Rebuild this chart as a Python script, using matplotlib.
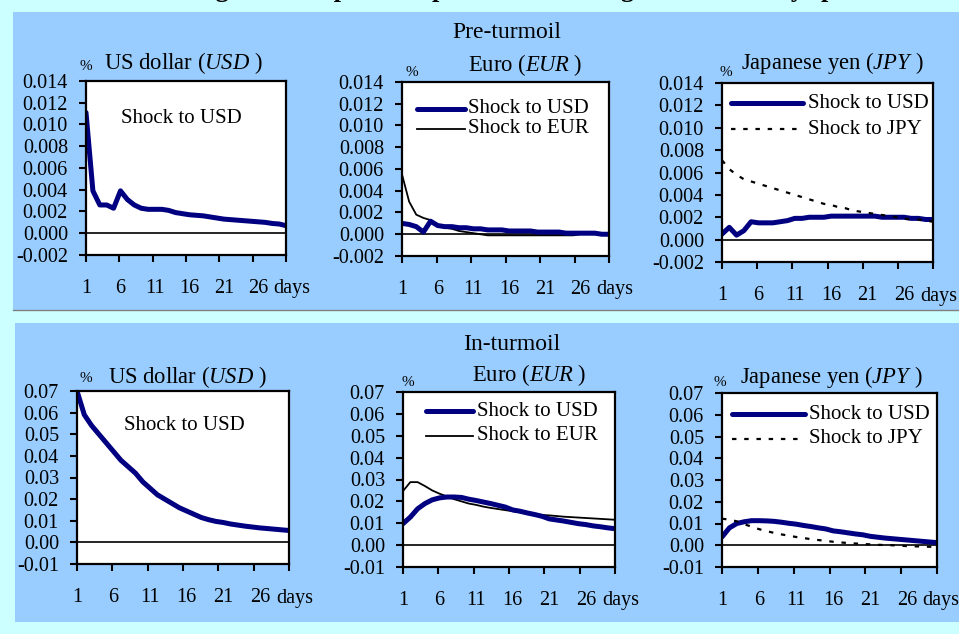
import matplotlib
matplotlib.use("Agg")
import matplotlib.pyplot as plt
from matplotlib.patches import Rectangle
import numpy as np

plt.rcParams['font.family'] = 'Liberation Serif'
plt.rcParams['mathtext.fontset'] = 'custom'
plt.rcParams['mathtext.rm'] = 'Liberation Serif'
plt.rcParams['mathtext.it'] = 'Liberation Serif:italic'

W, H = 959, 634
NAVY = '#000080'
FS = 15
TICK_FS = 14.5
HEAD_FS = 16.3

days = np.arange(1, 31)
day_labels = ['1', '6', '11', '16', '21', '26']

# pre-turmoil responses (%)
pre_usd_usd = [0.0111, 0.0039, 0.0026, 0.0026, 0.0023, 0.0039, 0.0031, 0.0026, 0.0023, 0.0022,
               0.0022, 0.0022, 0.0021, 0.0019, 0.0018, 0.0017, 0.00165, 0.0016, 0.0015, 0.0014,
               0.0013, 0.00125, 0.0012, 0.00115, 0.0011, 0.00105, 0.001, 0.0009, 0.00085, 0.0007]
pre_eur_usd = [0.0010, 0.0009, 0.0007, 0.0002, 0.0012, 0.0008, 0.0007, 0.0007, 0.0006, 0.0006,
               0.0005, 0.0005, 0.0004, 0.0004, 0.0004, 0.0003, 0.0003, 0.0003, 0.0003, 0.0002,
               0.0002, 0.0002, 0.0002, 0.0001, 0.0001, 0.0001, 0.0001, 0.0001, 0.0000, 0.0000]
pre_eur_eur = [0.0055, 0.0030, 0.0018, 0.0015, 0.0013, 0.0008, 0.0006, 0.0005, 0.0003, 0.0002,
               0.0001, 0.0000, -0.0001, -0.0001, -0.0001, -0.0001, -0.0001, -0.0001, -0.0001, -0.0001,
               -0.0001, -0.0001, -0.0001, -0.0001, -0.0001, 0.0000, 0.0000, 0.0000, 0.0000, 0.0000]
pre_jpy_usd = [0.0005, 0.0011, 0.0004, 0.0008, 0.0016, 0.0015, 0.0015, 0.0015, 0.0016, 0.0017,
               0.0019, 0.0019, 0.0020, 0.0020, 0.0020, 0.0021, 0.0021, 0.0021, 0.0021, 0.0021,
               0.0021, 0.0021, 0.0020, 0.0020, 0.0020, 0.0020, 0.0019, 0.0019, 0.0018, 0.0018]
pre_jpy_jpy = [0.0071, 0.0063, 0.0058, 0.0054, 0.0052, 0.0050, 0.0048, 0.0046, 0.0044, 0.0042,
               0.0040, 0.0038, 0.0036, 0.0034, 0.0032, 0.0031, 0.0029, 0.0028, 0.0026, 0.0025,
               0.0024, 0.0023, 0.0022, 0.0021, 0.0020, 0.0019, 0.0018, 0.0018, 0.0017, 0.0016]

# in-turmoil responses (%)
in_usd_usd = [0.070, 0.059, 0.054, 0.050, 0.046, 0.042, 0.038, 0.035, 0.032, 0.028,
              0.025, 0.022, 0.020, 0.018, 0.016, 0.0145, 0.013, 0.0115, 0.0105, 0.0097,
              0.0092, 0.0085, 0.008, 0.0075, 0.0071, 0.0067, 0.0064, 0.0061, 0.0058, 0.0055]
in_eur_usd = [0.0098, 0.0128, 0.0166, 0.0190, 0.0207, 0.0216, 0.0220, 0.0220, 0.0218, 0.0210,
              0.0204, 0.0197, 0.0190, 0.0182, 0.0174, 0.0161, 0.0155, 0.0147, 0.0140, 0.0132,
              0.0120, 0.0115, 0.0110, 0.0104, 0.0098, 0.0094, 0.0088, 0.0084, 0.0079, 0.0075]
in_eur_eur = [0.0247, 0.0288, 0.0288, 0.0270, 0.0250, 0.0235, 0.0223, 0.0210, 0.0200, 0.0190,
              0.0184, 0.0176, 0.0170, 0.0165, 0.0160, 0.0155, 0.0150, 0.0145, 0.0140, 0.0138,
              0.0136, 0.0133, 0.0130, 0.0128, 0.0126, 0.0124, 0.0122, 0.0120, 0.0118, 0.0116]
in_jpy_usd = [0.0038, 0.0080, 0.0100, 0.0108, 0.0113, 0.0113, 0.0112, 0.0110, 0.0106, 0.0101,
              0.0097, 0.0091, 0.0086, 0.0080, 0.0075, 0.0066, 0.0062, 0.0057, 0.0052, 0.0048,
              0.0041, 0.0037, 0.0033, 0.0030, 0.0027, 0.0024, 0.0021, 0.0018, 0.0015, 0.0012]
in_jpy_jpy = [0.0122, 0.0118, 0.0110, 0.0097, 0.0085, 0.0074, 0.0065, 0.0057, 0.0050, 0.0044,
              0.0038, 0.0033, 0.0028, 0.0024, 0.0020, 0.0016, 0.0013, 0.0010, 0.0008, 0.0006,
              0.0004, 0.0002, 0.0001, 0.0000, -0.0002, -0.0004, -0.0005, -0.0006, -0.0007, -0.0008]

pre_ticks = [-0.002, 0.000, 0.002, 0.004, 0.006, 0.008, 0.010, 0.012, 0.014]
in_ticks = [-0.01, 0.00, 0.01, 0.02, 0.03, 0.04, 0.05, 0.06, 0.07]


def fx(x):
    return x / W


def fy(y):
    return 1 - y / H


fig = plt.figure(figsize=(W / 100, H / 100), dpi=100, facecolor='#CCFFFF')

# panel backgrounds
fig.add_artist(Rectangle((fx(13), fy(310)), fx(959 - 13), (310 - 12) / H,
                         transform=fig.transFigure, facecolor='#99CCFF', edgecolor='none', zorder=0))
fig.add_artist(Rectangle((fx(15), fy(622)), fx(959 - 15), (622 - 323) / H,
                         transform=fig.transFigure, facecolor='#99CCFF', edgecolor='none', zorder=0))
fig.add_artist(plt.Line2D([fx(13), 1], [fy(310), fy(310)], transform=fig.transFigure,
                          color='#808080', lw=1))

# figure title, sitting above the top edge so only its descenders show
fig.text(fx(192), 1 + 3.5 / H,
         'Figure 4: Impulse responses of exchange rate volatility spillovers',
         fontsize=19, fontweight='bold', va='baseline', ha='left')


def make_axes(box, ticks, fmt, days_dx=-13):
    x0, x1, y0, y1 = box
    ax = fig.add_axes([fx(x0), fy(y1), (x1 - x0) / W, (y1 - y0) / H])
    ax.set_facecolor('white')
    ax.set_xlim(1, 30)
    ax.set_ylim(ticks[0], ticks[-1])
    ax.set_yticks(ticks)
    ax.set_yticklabels([fmt.format(t) for t in ticks])
    ax.xaxis.remove_overlapping_locs = False
    ax.set_xticks(np.linspace(1, 30, 7))
    ax.set_xticklabels([])
    ax.set_xticks([1, 6, 11, 16, 21, 26], minor=True)
    ax.set_xticklabels(day_labels, minor=True)
    ax.tick_params(axis='x', which='major', direction='out', length=5, width=1.5)
    ax.tick_params(axis='x', which='minor', length=0, pad=17, labelsize=TICK_FS)
    ax.tick_params(axis='y', direction='out', length=5, width=1.5, pad=8, labelsize=TICK_FS)
    for s in ax.spines.values():
        s.set_linewidth(1.6)
        s.set_color('black')
    ax.plot([days[0], days[-1]], [0, 0], color='black', lw=1.2, zorder=1)
    ax.annotate('days', xy=(1, 0), xycoords='axes fraction', xytext=(days_dx, -34),
                textcoords='offset pixels', ha='left', va='center', fontsize=TICK_FS)
    return ax


def legend_rows(ax, rows, x0, x1, xt):
    for y, style, label in rows:
        ax.plot([x0, x1], [y, y], transform=ax.transAxes, clip_on=False, **style)
        ax.text(xt, y, label, transform=ax.transAxes, fontsize=FS, va='center', ha='left')


thick = dict(color=NAVY, lw=3.6, solid_capstyle='round')
thin = dict(color='black', lw=1.3)
dotted = dict(color='black', lw=1.6, linestyle=(0, (2, 3.5)))

# Pre-turmoil row
ax1 = make_axes((86, 286, 81, 255), pre_ticks, '{:.3f}')
ax1.plot(days, pre_usd_usd, **thick)
ax1.text(0.475, 0.787, 'Shock to USD', transform=ax1.transAxes, fontsize=FS, ha='center', va='center')

ax2 = make_axes((402, 609, 82, 256), pre_ticks, '{:.3f}')
ax2.plot(days, pre_eur_eur, **thin)
ax2.plot(days, pre_eur_usd, **thick)
legend_rows(ax2, [(0.845, thick, 'Shock to USD'), (0.730, thin, 'Shock to EUR')], 0.072, 0.304, 0.319)

ax3 = make_axes((722, 933, 83, 262), pre_ticks, '{:.3f}', days_dx=-13)
ax3.plot(days, pre_jpy_usd, **thick)
ax3.plot(days, pre_jpy_jpy, **dotted)
legend_rows(ax3, [(0.888, thick, 'Shock to USD'), (0.743, dotted, 'Shock to JPY')], 0.043, 0.384, 0.408)

# In-turmoil row
ax4 = make_axes((77, 289, 391, 564), in_ticks, '{:.2f}')
ax4.plot(days, in_usd_usd, **thick)
ax4.text(0.505, 0.798, 'Shock to USD', transform=ax4.transAxes, fontsize=FS, ha='center', va='center')

ax5 = make_axes((403, 615, 392, 567), in_ticks, '{:.2f}')
ax5.plot(days, in_eur_eur, **thin)
ax5.plot(days, in_eur_usd, **thick)
legend_rows(ax5, [(0.891, thick, 'Shock to USD'), (0.749, thin, 'Shock to EUR')], 0.108, 0.330, 0.349)

ax6 = make_axes((722, 937, 393, 567), in_ticks, '{:.2f}', days_dx=-15)
ax6.plot(days, in_jpy_usd, **thick)
ax6.plot(days, in_jpy_jpy, **dotted)
legend_rows(ax6, [(0.879, thick, 'Shock to USD'), (0.736, dotted, 'Shock to JPY')], 0.047, 0.386, 0.405)

# row and panel headings
heads = [
    (507, 32, 'Pre-turmoil', 17),
    (512, 345, 'In-turmoil', 17),
    (183, 63, r'US dollar ($\mathit{USD}$ )', HEAD_FS),
    (525, 65, r'Euro ($\mathit{EUR}$ )', HEAD_FS),
    (832, 63, r'Japanese yen ($\mathit{JPY}$ )', HEAD_FS),
    (187, 377, r'US dollar ($\mathit{USD}$ )', HEAD_FS),
    (529, 375, r'Euro ($\mathit{EUR}$ )', HEAD_FS),
    (831, 377, r'Japanese yen ($\mathit{JPY}$ )', HEAD_FS),
    (86, 67, '%', 11),
    (412, 72, '%', 11),
    (726, 72, '%', 11),
    (86, 378, '%', 11),
    (408, 382, '%', 11),
    (720, 382, '%', 11),
]
for x, y, s, size in heads:
    fig.text(fx(x), fy(y), s, fontsize=size, ha='center', va='center')

fig.savefig('out.png', dpi=100, facecolor=fig.get_facecolor())
